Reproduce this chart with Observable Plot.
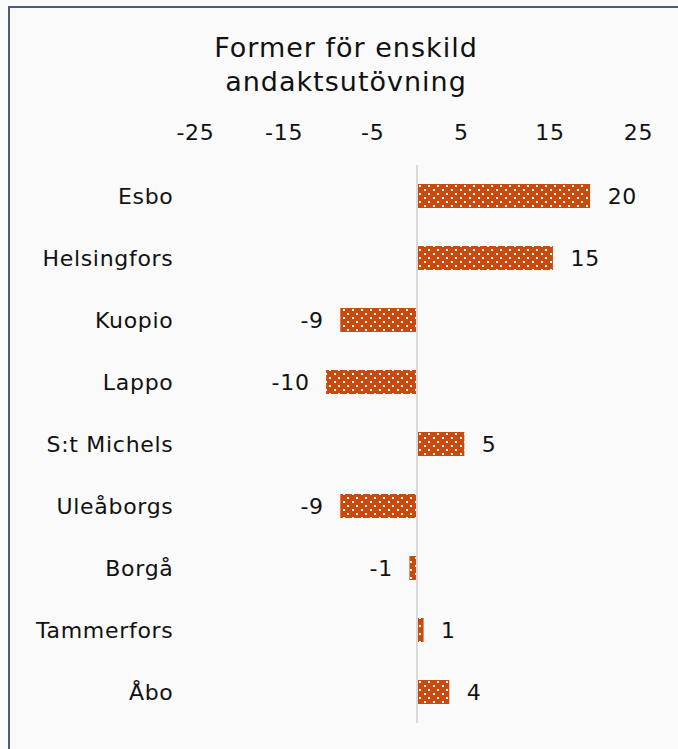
<!DOCTYPE html>
<html><head><meta charset="utf-8">
<script src="https://cdn.jsdelivr.net/npm/d3@7"></script>
<script src="https://cdn.jsdelivr.net/npm/@observablehq/plot@0.6"></script>
<style>
html,body{margin:0;padding:0;background:#fafafa;width:678px;height:749px;overflow:hidden;}
#frame{position:absolute;left:8px;top:6px;width:700px;height:800px;border-top:2px solid #4b5b7a;border-left:2px solid #4b5b7a;box-sizing:border-box;}
#title{position:absolute;left:0;width:692px;top:31px;text-align:center;font-family:"DejaVu Sans";font-size:27px;line-height:34px;letter-spacing:1px;color:#111;}
#chart{position:absolute;left:0;top:100px;}
#chart svg text{letter-spacing:0.7px;}
</style></head>
<body>
<div id="frame"></div>
<div id="title">Former för enskild<br>andaktsutövning</div>
<div id="chart"></div>
<script>
const cities = ["Esbo","Helsingfors","Kuopio","Lappo","S:t Michels","Uleåborgs","Borgå","Tammerfors","Åbo"];
const values = [19.6, 15.4, -8.6, -10.2, 5.4, -8.6, -0.8, 0.8, 3.7];
const tickValues = [-25, -15, -5, 5, 15, 25];

const data = cities.map((city, i) => ({city, value: values[i]}));
const fmt = v => String(Math.round(v));

const chart = Plot.plot({
  width: 678,
  height: 649,
  marginLeft: 195,
  marginRight: 40,
  marginTop: 65,
  marginBottom: 26,
  style: {fontFamily: "DejaVu Sans", fontSize: "22px", background: "transparent", color: "#111"},
  x: {domain: [-25, 25], ticks: tickValues, tickFormat: d => String(d), axis: "top", tickSize: 0, tickPadding: 26, label: null},
  y: {domain: cities, paddingInner: 0.613, paddingOuter: 0.306, tickSize: 0, tickPadding: 22, label: null},
  marks: [
    Plot.barX(data, {x: "value", y: "city", fill: "url(#dots)"}),
    Plot.ruleX([0], {stroke: "#d9d9d9", strokeWidth: 2}),
    Plot.text(data.filter(d => d.value >= 0), {x: "value", y: "city", text: d => fmt(d.value), textAnchor: "start", dx: 17, fill: "#111"}),
    Plot.text(data.filter(d => d.value < 0), {x: "value", y: "city", text: d => fmt(d.value), textAnchor: "end", dx: -17, fill: "#111"})
  ]
});

const ns = "http://www.w3.org/2000/svg";
const defs = document.createElementNS(ns, "defs");
defs.innerHTML = '<pattern id="dots" patternUnits="userSpaceOnUse" width="9" height="8">' +
  '<rect width="9" height="8" fill="#c84a0c"/>' +
  '<rect x="1" y="1" width="2" height="2" fill="#ffffff"/>' +
  '<rect x="5" y="5" width="2" height="2" fill="#ffffff"/></pattern>';
chart.insertBefore(defs, chart.firstChild);
document.getElementById("chart").appendChild(chart);
</script>
</body></html>
